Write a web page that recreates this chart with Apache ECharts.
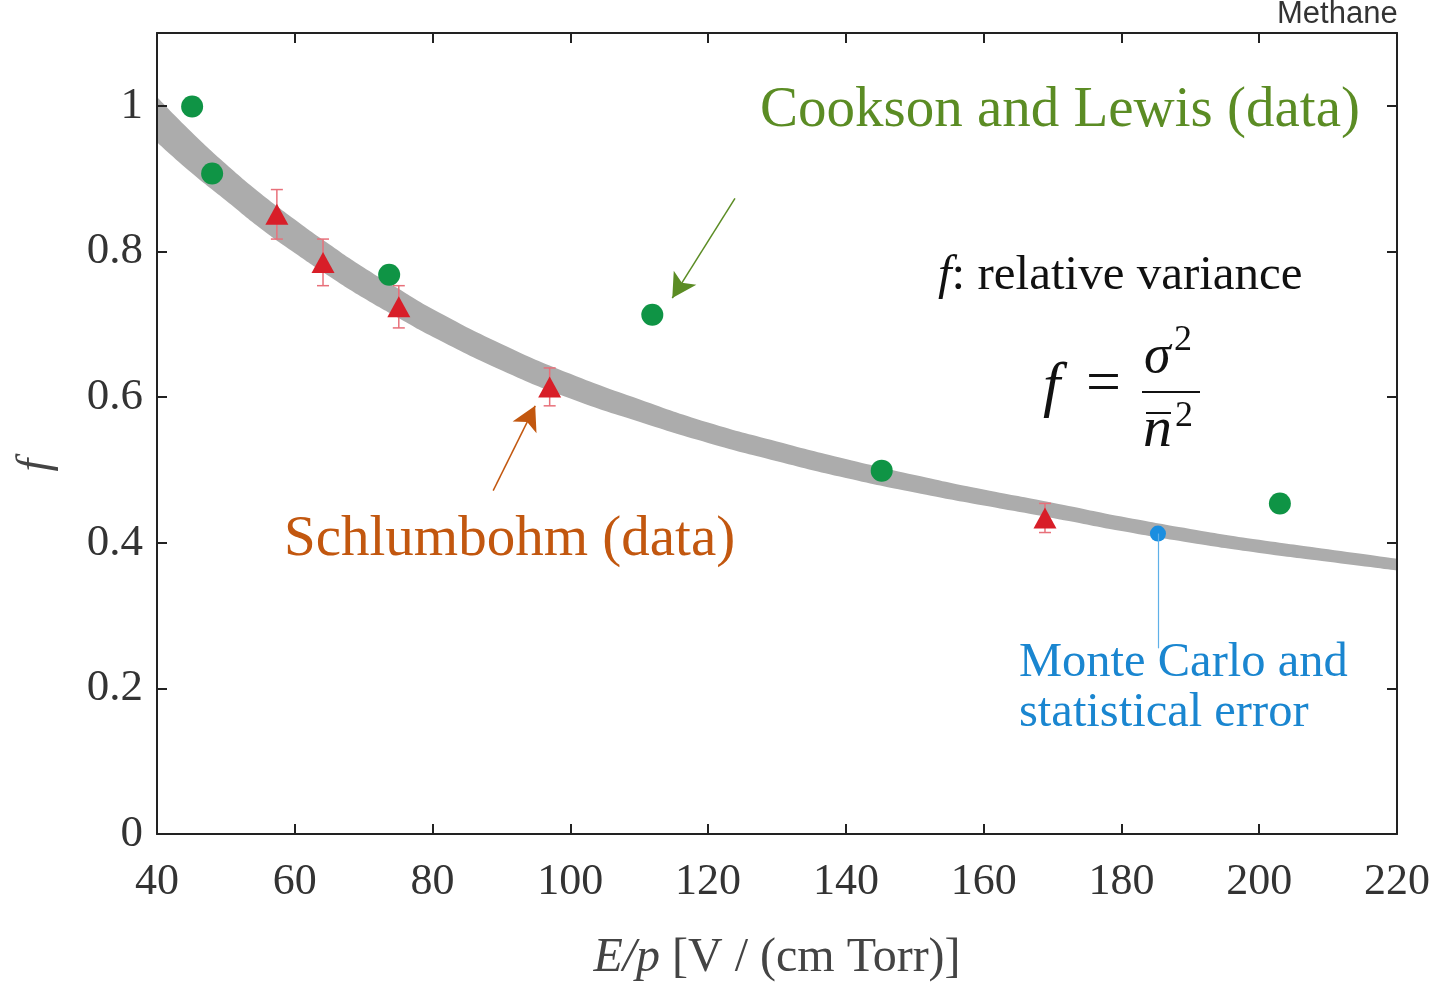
<!DOCTYPE html>
<html>
<head>
<meta charset="utf-8">
<script src="https://cdn.jsdelivr.net/npm/echarts@6/dist/echarts.min.js"></script>
<style>
html,body{margin:0;padding:0;background:#fff;}
#chart{width:1445px;height:983px;}
</style>
</head>
<body>
<div id="chart"></div>
<script>
// ---- data ----
const xTicks = [40, 60, 80, 100, 120, 140, 160, 180, 200, 220];
const yTicks = [0, 0.2, 0.4, 0.6, 0.8, 1];

const bandX     = [40, 45, 50, 55, 60, 65, 70, 75, 80, 90, 100, 110, 120, 130, 140, 150, 160, 170, 180, 190, 200, 210, 220];
const bandLower = [0.950, 0.908, 0.870, 0.832, 0.798, 0.766, 0.736, 0.709, 0.683, 0.637, 0.598, 0.566, 0.537, 0.512, 0.489, 0.469, 0.451, 0.434, 0.416, 0.400, 0.386, 0.374, 0.362];
const bandUpper = [1.012, 0.964, 0.920, 0.880, 0.844, 0.810, 0.778, 0.749, 0.721, 0.673, 0.632, 0.597, 0.565, 0.539, 0.515, 0.493, 0.473, 0.455, 0.436, 0.419, 0.404, 0.391, 0.378];

const cooksonX = [45.1, 48.0, 73.7, 111.9, 145.2, 203.0];
const cooksonF = [0.999, 0.907, 0.768, 0.713, 0.499, 0.454];

const schlumX   = [57.4, 64.1, 75.1, 97.0, 168.9];
const schlumF   = [0.851, 0.785, 0.724, 0.614, 0.434];
const schlumErr = [0.034, 0.032, 0.029, 0.026, 0.020];

const mcX = [185.3];
const mcF = [0.4126];

// ---- build ----
const serif = '"Liberation Serif", "DejaVu Serif", serif';
const zip = (a, b) => a.map((v, i) => [v, b[i]]);

const chart = echarts.init(document.getElementById('chart'));

const axisLineStyle = { color: '#222', width: 2 };

const option = {
  backgroundColor: '#fff',
  animation: false,
  grid: { left: 157, right: 48, top: 33, bottom: 149, containLabel: false, outerBoundsMode: 'none' },
  xAxis: [
    {
      type: 'value', min: 40, max: 220, interval: 20, position: 'bottom', z: 20,
      axisLine: { show: true, onZero: false, lineStyle: axisLineStyle },
      axisTick: { show: true, inside: true, length: 10, lineStyle: axisLineStyle },
      splitLine: { show: false },
      axisLabel: { fontFamily: serif, fontSize: 44, color: '#333', margin: 26 },
      name: '{i|E/p}{r| [V / (cm Torr)]}',
      nameLocation: 'middle', nameGap: 100,
      nameTextStyle: {
        rich: {
          i: { fontFamily: serif, fontStyle: 'italic', fontSize: 48, color: '#444' },
          r: { fontFamily: serif, fontSize: 48, color: '#444' }
        }
      }
    },
    {
      type: 'value', min: 40, max: 220, interval: 20, position: 'top', z: 20,
      axisLine: { show: true, onZero: false, lineStyle: axisLineStyle },
      axisTick: { show: true, inside: true, length: 10, lineStyle: axisLineStyle },
      splitLine: { show: false },
      axisLabel: { show: false }
    }
  ],
  yAxis: [
    {
      type: 'value', min: 0, max: 1.1, interval: 0.2, position: 'left', z: 20,
      axisLine: { show: true, onZero: false, lineStyle: axisLineStyle },
      axisTick: { show: true, inside: true, length: 10, lineStyle: axisLineStyle },
      splitLine: { show: false },
      axisLabel: {
        fontFamily: serif, fontSize: 45, color: '#333', margin: 14, showMaxLabel: false,
        formatter: v => (yTicks.some(t => Math.abs(t - v) < 1e-6) ? String(+v.toFixed(1)) : '')
      }
    },
    {
      type: 'value', min: 0, max: 1.1, interval: 0.2, position: 'right', z: 20,
      axisLine: { show: true, onZero: false, lineStyle: axisLineStyle },
      axisTick: { show: true, inside: true, length: 10, lineStyle: axisLineStyle },
      splitLine: { show: false },
      axisLabel: { show: false }
    }
  ],
  series: [
    {
      name: 'bandUpper', type: 'line', smooth: true, symbol: 'none',
      data: zip(bandX, bandUpper), lineStyle: { width: 0, opacity: 0 },
      areaStyle: { color: '#acacac', opacity: 1, origin: 'start' }, silent: true, z: 1
    },
    {
      name: 'bandLower', type: 'line', smooth: true, symbol: 'none',
      data: zip(bandX, bandLower), lineStyle: { width: 0, opacity: 0 },
      areaStyle: { color: '#ffffff', opacity: 1, origin: 'start' }, silent: true, z: 1.5
    },
    {
      name: 'errorbars', type: 'custom', z: 3,
      data: schlumX.map((x, i) => [x, schlumF[i] - schlumErr[i], schlumF[i] + schlumErr[i]]),
      renderItem: (params, api) => {
        const lo = api.coord([api.value(0), api.value(1)]);
        const hi = api.coord([api.value(0), api.value(2)]);
        const w = 6;
        const st = { stroke: '#e8707a', lineWidth: 1.5 };
        return {
          type: 'group',
          children: [
            { type: 'line', shape: { x1: lo[0], y1: lo[1], x2: hi[0], y2: hi[1] }, style: st },
            { type: 'line', shape: { x1: lo[0] - w, y1: lo[1], x2: lo[0] + w, y2: lo[1] }, style: st },
            { type: 'line', shape: { x1: hi[0] - w, y1: hi[1], x2: hi[0] + w, y2: hi[1] }, style: st }
          ]
        };
      }
    },
    {
      name: 'Schlumbohm', type: 'scatter', z: 4, symbol: 'triangle', symbolSize: [23, 21],
      data: zip(schlumX, schlumF), itemStyle: { color: '#d81e28', opacity: 1 },
      markLine: {
        silent: true, symbol: ['none', 'arrow'], symbolSize: [20, 24],
        lineStyle: { color: '#c2570f', width: 1.5, type: 'solid' }, label: { show: false },
        data: [[{ coord: [88.8, 0.4716] }, { coord: [94.9, 0.588] }]]
      }
    },
    {
      name: 'Cookson', type: 'scatter', z: 4, symbol: 'circle', symbolSize: 22,
      data: zip(cooksonX, cooksonF), itemStyle: { color: '#0f9445', opacity: 1 },
      markLine: {
        silent: true, symbol: ['none', 'arrow'], symbolSize: [20, 24],
        lineStyle: { color: '#5b8c24', width: 1.5, type: 'solid' }, label: { show: false },
        data: [[{ coord: [123.9, 0.873] }, { coord: [114.8, 0.736] }]]
      }
    },
    {
      name: 'MonteCarlo', type: 'scatter', z: 4, symbol: 'circle', symbolSize: 16,
      data: zip(mcX, mcF), itemStyle: { color: '#1a8ee0', opacity: 1 },
      markLine: {
        silent: true, symbol: ['none', 'none'],
        lineStyle: { color: '#5fb0e8', width: 1.2, type: 'solid' }, label: { show: false },
        data: [[{ coord: [mcX[0], mcF[0]] }, { coord: [mcX[0], 0.255] }]]
      }
    }
  ],
  graphic: [
    { type: 'text', z: 100, left: 1277, top: -1, style: { text: 'Methane', fontFamily: '"Liberation Sans", Arial, sans-serif', fontSize: 31, fill: '#333' } },
    { type: 'text', z: 100, x: 36, y: 465, rotation: Math.PI / 2, style: { text: 'f', fontFamily: serif, fontStyle: 'italic', fontSize: 46, fill: '#444', align: 'center', verticalAlign: 'middle' } },
    { type: 'text', z: 100, left: 760, top: 83, style: { text: 'Cookson and Lewis (data)', fontFamily: serif, fontSize: 57, fill: '#5b8c24' } },
    { type: 'text', z: 100, left: 284, top: 512, style: { text: 'Schlumbohm (data)', fontFamily: serif, fontSize: 57, fill: '#c2570f' } },
    { type: 'text', z: 100, left: 938, top: 252, style: {
        text: '{i|f}{r|: relative variance}',
        rich: { i: { fontFamily: serif, fontStyle: 'italic', fontSize: 49, fill: '#111' }, r: { fontFamily: serif, fontSize: 49, fill: '#111' } } } },
    { type: 'text', z: 100, left: 1043, top: 358, style: { text: 'f', fontFamily: serif, fontStyle: 'italic', fontSize: 62, fill: '#111' } },
    { type: 'text', z: 100, left: 1086, top: 355, style: { text: '=', fontFamily: serif, fontSize: 62, fill: '#111' } },
    { type: 'text', z: 100, left: 1144, top: 331, style: { text: 'σ', fontFamily: serif, fontStyle: 'italic', fontSize: 54, fill: '#111' } },
    { type: 'text', z: 100, left: 1174, top: 323, style: { text: '2', fontFamily: serif, fontSize: 36, fill: '#111' } },
    { type: 'line', z: 100, shape: { x1: 1142, y1: 392, x2: 1200, y2: 392 }, style: { stroke: '#111', lineWidth: 2 } },
    { type: 'text', z: 100, left: 1143, top: 402, style: { text: 'n', fontFamily: serif, fontStyle: 'italic', fontSize: 58, fill: '#111' } },
    { type: 'line', z: 100, shape: { x1: 1146, y1: 413, x2: 1171, y2: 413 }, style: { stroke: '#111', lineWidth: 2 } },
    { type: 'text', z: 100, left: 1175, top: 399, style: { text: '2', fontFamily: serif, fontSize: 36, fill: '#111' } },
    { type: 'text', z: 100, left: 1019, top: 638, style: {
        text: 'Monte Carlo and\nstatistical error', fontFamily: serif, fontSize: 48.5, lineHeight: 50, fill: '#1a86d0' } }
  ]
};

chart.setOption(option);
</script>
</body>
</html>
